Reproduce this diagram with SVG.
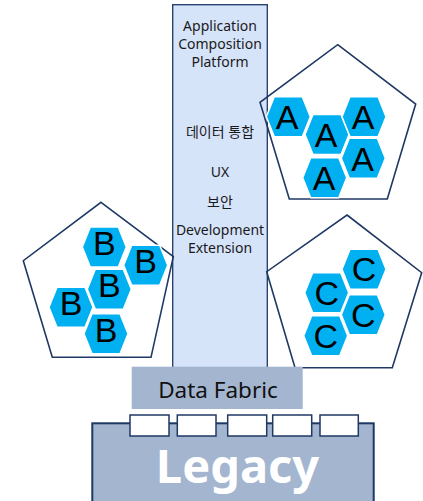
<svg xmlns="http://www.w3.org/2000/svg" width="423" height="501" viewBox="0 0 423 501">
<defs>
<style>
.col{fill:#d6e4fa;stroke:#1f3864;stroke-width:1.3}
.pent{fill:none;stroke:#1f3864;stroke-width:1.6;stroke-linejoin:miter}
.hex{fill:#00b0f0;stroke:#ffffff;stroke-width:1.5}
.lt{font-family:"Liberation Sans",Arial,sans-serif;font-size:34px;fill:#000;text-anchor:middle}
.ct{font-family:"Noto Sans","Noto Sans CJK KR",sans-serif;font-size:14px;fill:#1a1a1a;text-anchor:middle}
.slab{fill:#a3b5cf}
.port{fill:#ffffff;stroke:#1f3864;stroke-width:1.5}
</style>
<polygon id="hx" points="-22,0 -14,-20 14,-20 22,0 14,20 -14,20"/>
</defs>
<rect width="423" height="501" fill="#ffffff"/>

<g id="platform">
<rect class="col" x="172.7" y="4.7" width="94.6" height="370"/>
<text class="ct" x="220" y="31"><tspan x="220" y="31">Application</tspan><tspan x="220" y="48.5">Composition</tspan><tspan x="220" y="66.5">Platform</tspan></text>
<text class="ct" x="220" y="137">데이터 통합</text>
<text class="ct" x="220" y="176.5">UX</text>
<text class="ct" x="220" y="207">보안</text>
<text class="ct" x="220" y="235"><tspan x="220" y="235">Development</tspan><tspan x="220" y="252.5">Extension</tspan></text>
</g>

<g id="groupA">
<polygon class="pent" points="337.7,44.7 415.7,104 387.3,199 289.3,199 260,102.3"/>
<use href="#hx" class="hex" x="288.3" y="116.7"/>
<use href="#hx" class="hex" x="327" y="134.5"/>
<use href="#hx" class="hex" x="364" y="116.7"/>
<use href="#hx" class="hex" x="363.3" y="158.3"/>
<use href="#hx" class="hex" x="324.7" y="177.7"/>
<text class="lt" x="287" y="129">A</text>
<text class="lt" x="326" y="147">A</text>
<text class="lt" x="363" y="129">A</text>
<text class="lt" x="362.5" y="170.5">A</text>
<text class="lt" x="324" y="190">A</text>
</g>

<g id="groupB">
<polygon class="pent" points="101,202.3 173.3,256.7 151,357.3 52.3,357.3 23.3,260.7"/>
<use href="#hx" class="hex" x="104.3" y="247"/>
<use href="#hx" class="hex" x="145.7" y="265.3"/>
<use href="#hx" class="hex" x="109.3" y="289.3"/>
<use href="#hx" class="hex" x="71" y="307.3"/>
<use href="#hx" class="hex" x="106" y="333.7"/>
<text class="lt" x="104.3" y="255">B</text>
<text class="lt" x="145.7" y="273.3">B</text>
<text class="lt" x="109.3" y="297.3">B</text>
<text class="lt" x="71" y="315.3">B</text>
<text class="lt" x="106" y="341.7">B</text>
</g>

<g id="groupC">
<polygon class="pent" points="347,215 421.7,272.7 392.3,367.7 295,367.7 266.7,271.7"/>
<use href="#hx" class="hex" x="364" y="269.3"/>
<use href="#hx" class="hex" x="326.7" y="292.7"/>
<use href="#hx" class="hex" x="363.3" y="314.7"/>
<use href="#hx" class="hex" x="325.7" y="335.7"/>
<text class="lt" x="364" y="281.3">C</text>
<text class="lt" x="326.7" y="304.7">C</text>
<text class="lt" x="363.3" y="326.7">C</text>
<text class="lt" x="325.7" y="347.7">C</text>
</g>

<g id="dataFabric">
<rect class="slab" x="131.7" y="366.7" width="171" height="42.3"/>
<text x="218" y="398.3" font-family="'Noto Sans',sans-serif" font-size="22.5" fill="#111" text-anchor="middle">Data Fabric</text>
</g>

<g id="legacy">
<rect class="slab" x="92.3" y="423.3" width="281.4" height="90" stroke="#1f3864" stroke-width="2"/>
<rect class="port" x="130" y="415" width="39" height="21"/>
<rect class="port" x="177.3" y="415" width="38.7" height="21"/>
<rect class="port" x="227.7" y="415" width="39" height="21"/>
<rect class="port" x="272.7" y="415" width="39" height="21"/>
<rect class="port" x="320" y="415" width="38.3" height="21"/>
<text x="237.5" y="483" font-family="'Noto Sans',sans-serif" font-size="47" font-weight="bold" fill="#ffffff" text-anchor="middle">Legacy</text>
</g>
</svg>
